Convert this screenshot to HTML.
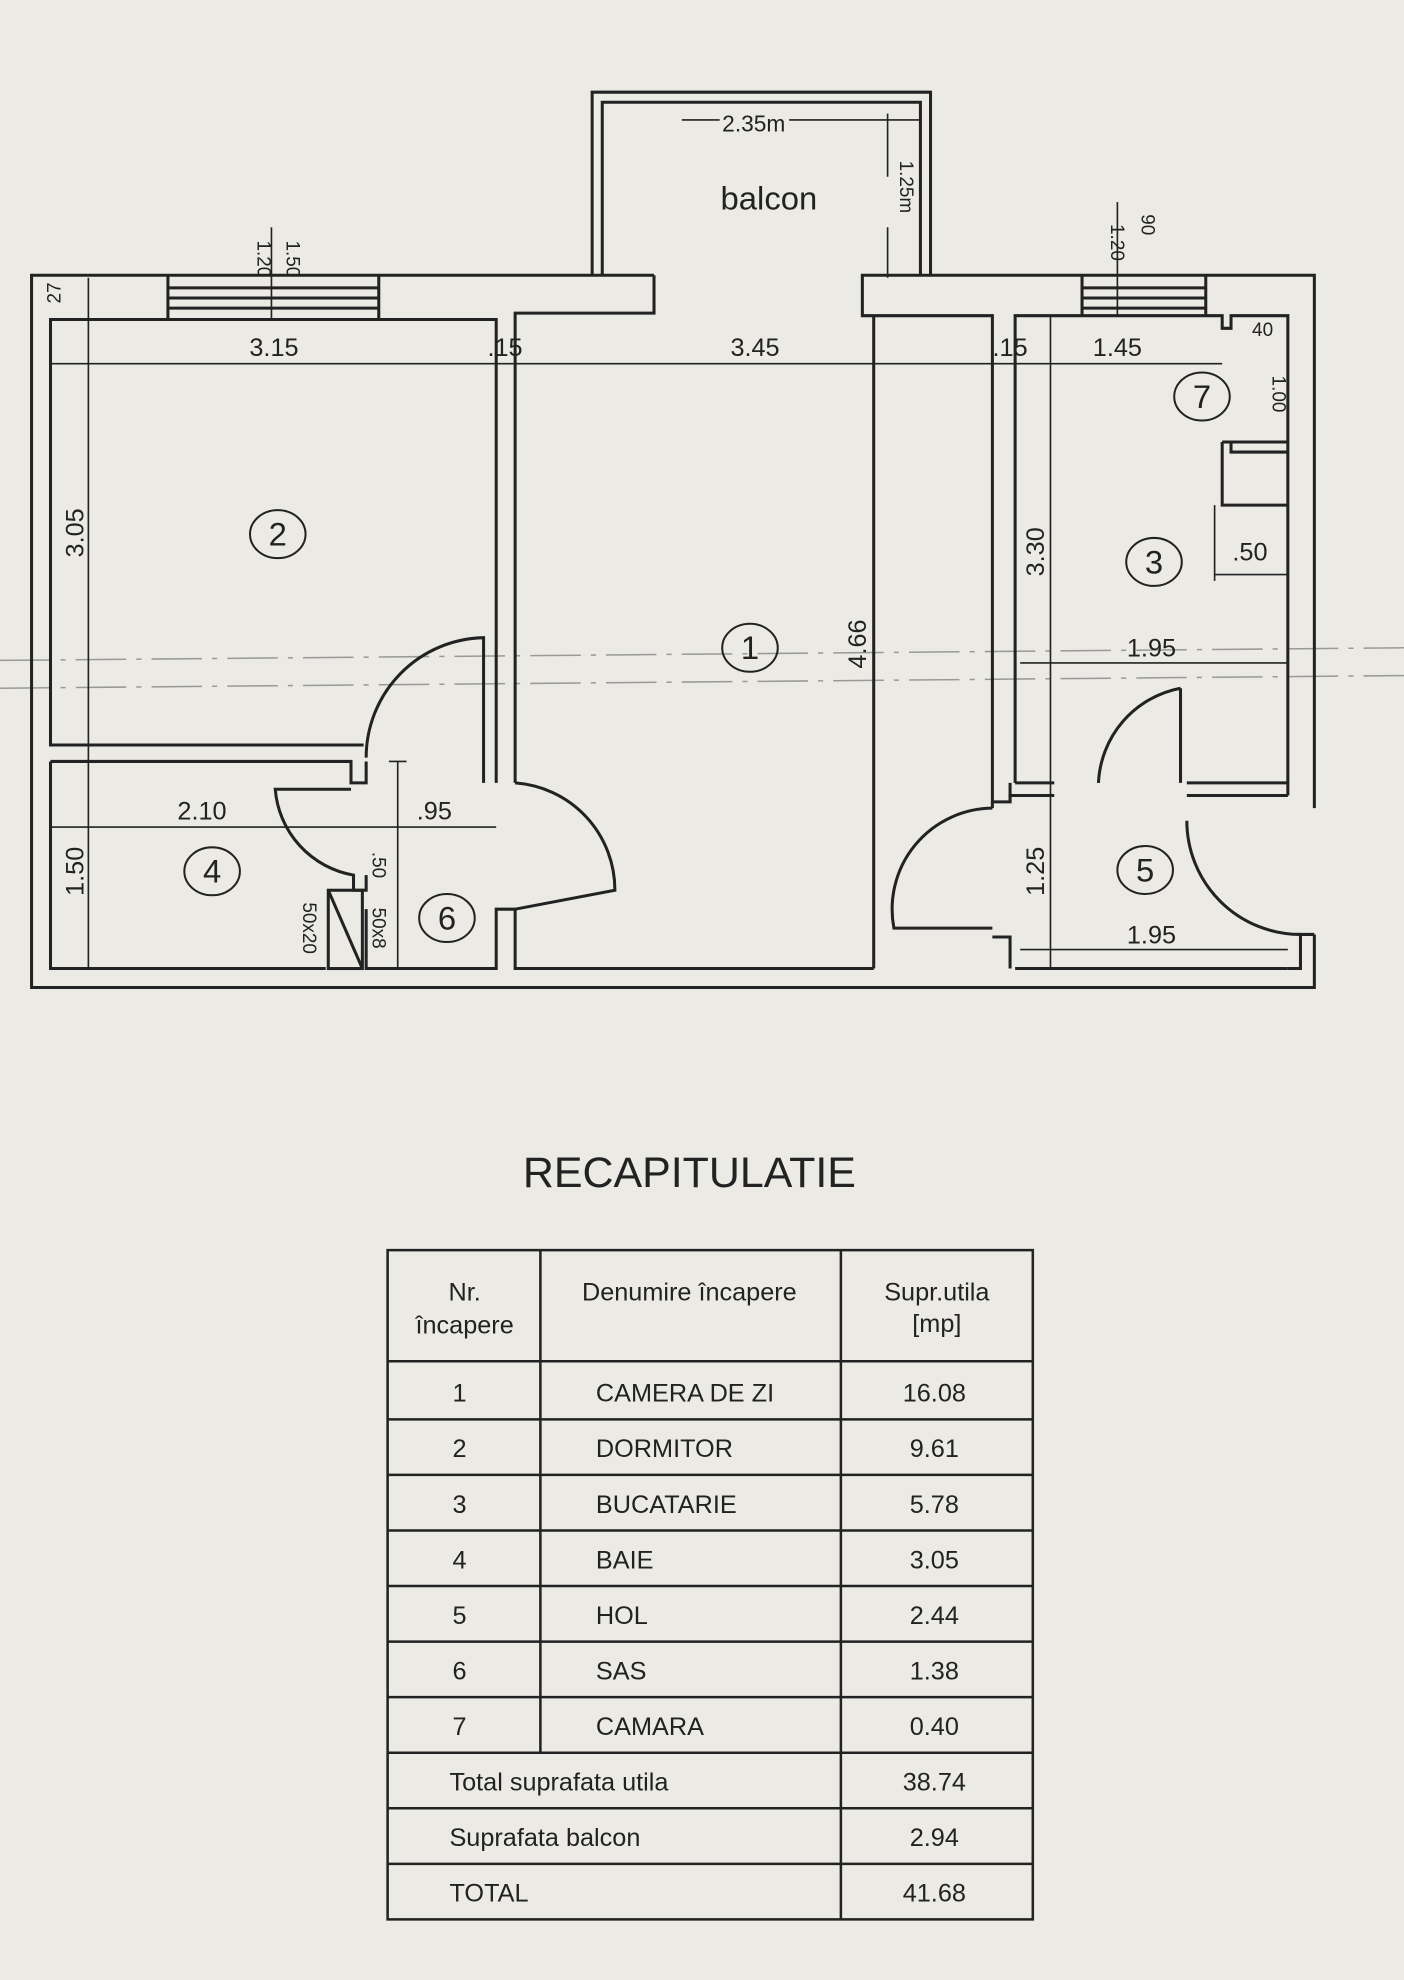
<!DOCTYPE html>
<html><head><meta charset="utf-8"><style>
html,body{margin:0;padding:0;background:#ebeae5;}
svg{display:block}
text{font-family:"Liberation Sans",sans-serif;fill:#222}
</style></head><body>
<svg width="1404" height="1980" viewBox="0 0 1112 1568" preserveAspectRatio="none" xmlns="http://www.w3.org/2000/svg">
<rect x="0" y="0" width="1112" height="1568" fill="#ebeae5"/>
<g fill="none" stroke="#222" stroke-width="2.4">
<!-- dashed axis lines -->
<path d="M0 523 L1112 513" stroke="#999" stroke-width="1.2" stroke-dasharray="40 8 4 8"/>
<path d="M0 545 L1112 535" stroke="#999" stroke-width="1.2" stroke-dasharray="40 8 4 8"/>
<!-- balcony -->
<path d="M469 218 V73 H737 V218"/>
<path d="M477 218 V81 H729 V218"/>
<!-- outer wall -->
<path d="M518 218 H25 V782 H1041 V740"/>
<path d="M1041 640 V218 H683 V250 H786 V635 H800 V620"/>
<path d="M518 218 V248 H408 V620"/>
<!-- left top inner -->
<path d="M393 620 V253 H40 V590 H288"/>
<path d="M40 603 H278 V620 H290 V603"/>
<path d="M40 603 V767 H258"/>
<path d="M290 720 V767 H393 V720 H408 V767 H692"/>
<path d="M692 767 V250"/>
<!-- window left -->
<path d="M133 218 V253 M300 218 V253 M133 228 H300 M133 236 H300 M133 244 H300"/>
<!-- window right -->
<path d="M857 218 V250 M955 218 V250 M857 228 H955 M857 236 H955 M857 244 H955"/>
<!-- room 3/5 walls -->
<path d="M804 620 V250 H968 V260 H975 V250 H1020 V620 H940"/>
<path d="M835 620 H804"/>
<path d="M1020 630 V620 M835 630 H800 V635"/>
<path d="M940 630 H1020"/>
<path d="M1041 640 H1041"/>
<path d="M786 635 V640 M800 742 V767 M786 742 H800 V767"/>
<path d="M1020 767 H1030 V740 H1041"/>
<path d="M804 767 H1020"/>
<!-- room 7 box -->
<path d="M968 350 H1020 M968 350 V400 H1020 M968 350 H975 V358 H1020"/>
<!-- doors -->
<path d="M383 620 V505 A95 95 0 0 0 290 600"/>
<path d="M408 620 A85 85 0 0 1 487 705 L408 720"/>
<path d="M278 625 H218 A75 75 0 0 0 280 693 V705 H290 V693"/>
<path d="M786 640 A80 80 0 0 0 708 735 H786"/>
<path d="M935 545 V620 M935 545 A80 80 0 0 0 870 620"/>
<path d="M940 650 A90 90 0 0 0 1030 740"/>
<!-- shaft -->
<rect x="260" y="705" width="27" height="62"/>
<path d="M260 705 L287 767"/>
</g>
<!-- dimension lines -->
<g stroke="#222" stroke-width="1.3" fill="none">
<path d="M40 288 H692 M692 288 H968"/>
<path d="M70 220 V767"/>
<path d="M40 655 H393"/>
<path d="M315 603 V767 M308 603 H322"/>
<path d="M808 525 H1020"/>
<path d="M832 250 V767"/>
<path d="M808 752 H1020"/>
<path d="M962 400 V460 M962 455 H1020"/>
<path d="M215 180 V253"/>
<path d="M885 160 V250"/>
<path d="M703 90 V140 M703 180 V220 M540 95 H570 M625 95 H729"/>
</g>
<g font-size="20" text-anchor="middle">
<text x="217" y="282">3.15</text>
<text x="400" y="282">.15</text>
<text x="598" y="282">3.45</text>
<text x="800" y="282">.15</text>
<text x="885" y="282">1.45</text>
<text x="160" y="649">2.10</text>
<text x="344" y="649">.95</text>
<text x="912" y="520">1.95</text>
<text x="912" y="747">1.95</text>
<text x="990" y="444">.50</text>
<text x="1000" y="266" font-size="15">40</text>
<text x="597" y="104" font-size="18">2.35m</text>
<text x="609" y="166" font-size="26">balcon</text>
<text transform="translate(66,422) rotate(-90)">3.05</text>
<text transform="translate(66,690) rotate(-90)">1.50</text>
<text transform="translate(686,510) rotate(-90)">4.66</text>
<text transform="translate(827,437) rotate(-90)">3.30</text>
<text transform="translate(827,690) rotate(-90)">1.25</text>
<text transform="translate(48,232) rotate(-90)" font-size="15">27</text>
<text transform="translate(204,205) rotate(90)" font-size="15">1.20</text>
<text transform="translate(227,205) rotate(90)" font-size="15">1.50</text>
<text transform="translate(880,192) rotate(90)" font-size="15">1.20</text>
<text transform="translate(904,178) rotate(90)" font-size="15">90</text>
<text transform="translate(713,148) rotate(90)" font-size="15">1.25m</text>
<text transform="translate(1008,312) rotate(90)" font-size="15">1.00</text>
<text transform="translate(295,685) rotate(90)" font-size="15">.50</text>
<text transform="translate(295,735) rotate(90)" font-size="15">50x8</text>
<text transform="translate(240,735) rotate(90)" font-size="15">50x20</text>
</g>
<g fill="none" stroke="#222" stroke-width="1.6">
<ellipse cx="220" cy="423" rx="22" ry="19"/>
<ellipse cx="594" cy="513" rx="22" ry="19"/>
<ellipse cx="914" cy="445" rx="22" ry="19"/>
<ellipse cx="168" cy="690" rx="22" ry="19"/>
<ellipse cx="907" cy="689" rx="22" ry="19"/>
<ellipse cx="354" cy="727" rx="22" ry="19"/>
<ellipse cx="952" cy="314" rx="22" ry="19"/>
</g>
<g font-size="26" text-anchor="middle">
<text x="220" y="432">2</text><text x="594" y="522">1</text><text x="914" y="454">3</text>
<text x="168" y="699">4</text><text x="907" y="698">5</text><text x="354" y="736">6</text><text x="952" y="323">7</text>
</g>
<text x="546" y="940" font-size="34" text-anchor="middle">RECAPITULATIE</text>
<g stroke="#222" stroke-width="2" fill="none">
<rect x="307" y="990" width="511" height="530"/>
<path d="M428 990 V1388 M666 990 V1388 M666 1388 V1520"/>
<path d="M307 1078 H818 M307 1124 H818 M307 1168 H818 M307 1212 H818 M307 1256 H818 M307 1300 H818 M307 1344 H818 M307 1388 H818 M307 1432 H818 M307 1476 H818"/>
</g>
<g font-size="20" text-anchor="middle">
<text x="368" y="1030">Nr.</text><text x="368" y="1056">încapere</text>
<text x="546" y="1030">Denumire  încapere</text>
<text x="742" y="1030">Supr.utila</text><text x="742" y="1055">[mp]</text>
<text x="364" y="1110">1</text><text x="364" y="1154">2</text><text x="364" y="1198">3</text><text x="364" y="1242">4</text><text x="364" y="1286">5</text><text x="364" y="1330">6</text><text x="364" y="1374">7</text>
<text x="740" y="1110">16.08</text><text x="740" y="1154">9.61</text><text x="740" y="1198">5.78</text><text x="740" y="1242">3.05</text><text x="740" y="1286">2.44</text><text x="740" y="1330">1.38</text><text x="740" y="1374">0.40</text>
<text x="740" y="1418">38.74</text><text x="740" y="1462">2.94</text><text x="740" y="1506">41.68</text>
</g>
<g font-size="20">
<text x="472" y="1110">CAMERA DE ZI</text><text x="472" y="1154">DORMITOR</text><text x="472" y="1198">BUCATARIE</text><text x="472" y="1242">BAIE</text><text x="472" y="1286">HOL</text><text x="472" y="1330">SAS</text><text x="472" y="1374">CAMARA</text>
<text x="356" y="1418">Total suprafata utila</text><text x="356" y="1462">Suprafata balcon</text><text x="356" y="1506">TOTAL</text>
</g>
</svg>
</body></html>
